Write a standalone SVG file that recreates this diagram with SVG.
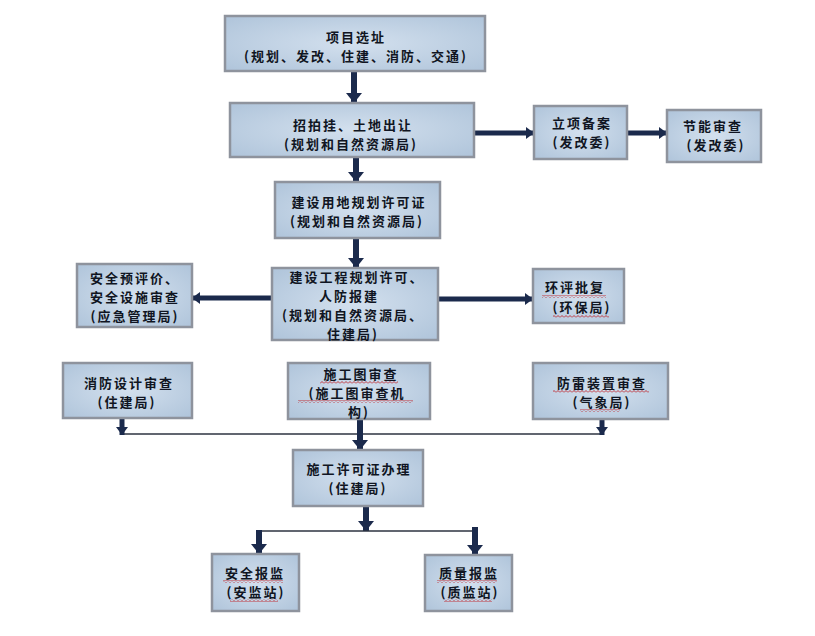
<svg xmlns="http://www.w3.org/2000/svg" width="815" height="636" viewBox="0 0 815 636">
<defs>
<radialGradient id="bg" cx="50%" cy="50%" r="70%">
<stop offset="0%" stop-color="#d3e0ee"/>
<stop offset="100%" stop-color="#afc4da"/>
</radialGradient>
<marker id="ah" markerUnits="userSpaceOnUse" markerWidth="18" markerHeight="18" refX="10" refY="8" orient="auto">
<path d="M0,0 L10,8 L0,16 Z" fill="#1b2a4c"/>
</marker>
<marker id="ahs" markerUnits="userSpaceOnUse" markerWidth="14" markerHeight="14" refX="8" refY="6" orient="auto">
<path d="M0,0 L8,6 L0,12 Z" fill="#1b2a4c"/>
</marker>
<pattern id="sq" width="4" height="3" patternUnits="userSpaceOnUse">
<polyline points="0,2.5 2,0.5 4,2.5" fill="none" stroke="#c0262d" stroke-width="0.9"/>
</pattern>
</defs>
<style>
.box{fill:url(#bg);stroke:#8e939d;stroke-width:2.5}
.t{font-family:"Noto Sans CJK SC","Noto Sans",sans-serif;font-weight:700;font-size:13px;fill:#101522;text-anchor:middle;letter-spacing:2px}
.arr{stroke:#1b2a4c;stroke-width:6;fill:none;marker-end:url(#ah)}
.arrs{stroke:#1b2a4c;stroke-width:5;fill:none;marker-end:url(#ahs)}
.thin{stroke:#2d3340;stroke-width:1.5;fill:none}
.sq{fill:url(#sq)}
</style>
<rect width="815" height="636" fill="#ffffff"/>

<g id="connectors">
<line class="arr" x1="354" y1="71" x2="354" y2="103"/>
<line class="arrs" x1="474" y1="133" x2="534" y2="133"/>
<line class="arrs" x1="627" y1="133" x2="667" y2="133"/>
<line class="arr" x1="356" y1="157" x2="356" y2="182"/>
<line class="arr" x1="356" y1="238" x2="356" y2="268"/>
<line class="arrs" x1="272" y1="298" x2="192" y2="298"/>
<line class="arrs" x1="438" y1="299" x2="533" y2="299"/>
<line class="thin" x1="122" y1="434" x2="602" y2="434"/>
<line class="arrs" x1="122" y1="418" x2="122" y2="435"/>
<line class="arrs" x1="602" y1="419" x2="602" y2="435"/>
<line class="arr" x1="360" y1="419" x2="360" y2="450"/>
<line class="arr" x1="366" y1="506" x2="366" y2="531"/>
<line class="thin" x1="259" y1="531" x2="475" y2="531"/>
<line class="arr" x1="259" y1="530" x2="259" y2="554"/>
<line class="arr" x1="475" y1="527" x2="475" y2="555"/>
</g>

<g id="n1">
<rect class="box" x="225" y="16" width="260" height="55"/>
<text class="t" x="356" y="42">项目选址</text>
<text class="t" x="356" y="61">(规划、发改、住建、消防、交通)</text>
</g>
<g id="n2">
<rect class="box" x="230" y="103" width="244" height="54"/>
<text class="t" x="353" y="130">招拍挂、土地出让</text>
<text class="t" x="351" y="149">(规划和自然资源局)</text>
</g>
<g id="n3">
<rect class="box" x="534" y="106" width="93" height="53"/>
<text class="t" x="582" y="128">立项备案</text>
<text class="t" x="582" y="147">(发改委)</text>
</g>
<g id="n4">
<rect class="box" x="667" y="110" width="94" height="52"/>
<text class="t" x="713" y="131">节能审查</text>
<text class="t" x="716" y="150">(发改委)</text>
</g>
<g id="n5">
<rect class="box" x="275" y="182" width="165" height="56"/>
<text class="t" x="359" y="207">建设用地规划许可证</text>
<text class="t" x="357" y="226">(规划和自然资源局)</text>
</g>
<g id="n6">
<rect class="box" x="272" y="268" width="166" height="72"/>
<text class="t" x="357" y="282">建设工程规划许可、</text>
<text class="t" x="349" y="301">人防报建</text>
<text class="t" x="353" y="320">(规划和自然资源局、</text>
<text class="t" x="353" y="339">住建局)</text>
</g>
<g id="n7">
<rect class="box" x="77" y="264" width="115" height="63"/>
<text class="t" x="135" y="283">安全预评价、</text>
<text class="t" x="135" y="302">安全设施审查</text>
<text class="t" x="135" y="321">(应急管理局)</text>
</g>
<g id="n8">
<rect class="box" x="533" y="269" width="91" height="54"/>
<text class="t" x="575" y="292">环评批复</text>
<text class="t" x="582" y="312">(环保局)</text>
<rect class="sq" x="542" y="295" width="64" height="3"/>
<rect class="sq" x="553" y="315" width="56" height="3"/>
</g>
<g id="n9">
<rect class="box" x="63" y="363" width="129" height="55"/>
<text class="t" x="129" y="388">消防设计审查</text>
<text class="t" x="127" y="407">(住建局)</text>
</g>
<g id="n10">
<rect class="box" x="288" y="363" width="142" height="56"/>
<text class="t" x="361" y="379">施工图审查</text>
<text class="t" x="357" y="398">(施工图审查机</text>
<text class="t" x="359" y="417">构)</text>
<rect class="sq" x="320" y="381" width="78" height="3"/>
<rect class="sq" x="298" y="400" width="115" height="3"/>
</g>
<g id="n11">
<rect class="box" x="533" y="363" width="135" height="56"/>
<text class="t" x="602" y="388">防雷装置审查</text>
<text class="t" x="602" y="407">(气象局)</text>
<rect class="sq" x="553" y="390" width="96" height="3"/>
<rect class="sq" x="580" y="409" width="40" height="3"/>
</g>
<g id="n12">
<rect class="box" x="293" y="450" width="130" height="56"/>
<text class="t" x="359" y="474">施工许可证办理</text>
<text class="t" x="358" y="493">(住建局)</text>
</g>
<g id="n13">
<rect class="box" x="212" y="554" width="87" height="57"/>
<text class="t" x="255" y="578">安全报监</text>
<text class="t" x="256" y="597">(安监站)</text>
<rect class="sq" x="223" y="580" width="60" height="3"/>
<rect class="sq" x="230" y="599" width="48" height="3"/>
</g>
<g id="n14">
<rect class="box" x="425" y="555" width="87" height="56"/>
<text class="t" x="469" y="578">质量报监</text>
<text class="t" x="470" y="597">(质监站)</text>
<rect class="sq" x="437" y="580" width="60" height="3"/>
<rect class="sq" x="444" y="599" width="48" height="3"/>
</g>
</svg>
